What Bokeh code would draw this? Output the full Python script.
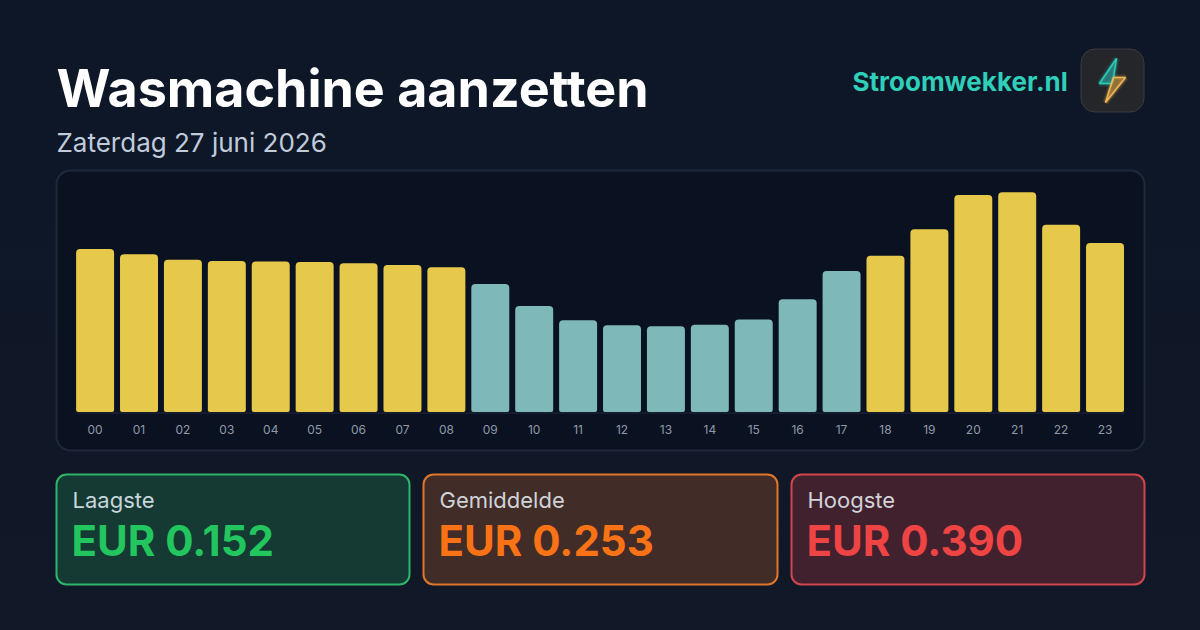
from bokeh.core.properties import value
from bokeh.embed import file_html
from bokeh.resources import INLINE
from bokeh.models import (BoxAnnotation, ColumnDataSource, FixedTicker, GlobalInlineStyleSheet,
                          LinearAxis, Range1d)
from bokeh.plotting import figure

TITLE = "Wasmachine aanzetten"
SUBTITLE = "Zaterdag 27 juni 2026"
BRAND = "Stroomwekker.nl"
hours = ["00", "01", "02", "03", "04", "05", "06", "07", "08", "09", "10", "11",
         "12", "13", "14", "15", "16", "17", "18", "19", "20", "21", "22", "23"]
prices = [0.289, 0.280, 0.270, 0.268, 0.267, 0.266, 0.264, 0.261, 0.257, 0.227, 0.188, 0.163,
          0.154, 0.152, 0.155, 0.164, 0.200, 0.250, 0.277, 0.324, 0.385, 0.390, 0.332, 0.300]
cheap_hours = ["09", "10", "11", "12", "13", "14", "15", "16", "17"]
card_labels = ["Laagste", "Gemiddelde", "Hoogste"]
card_values = ["EUR 0.152", "EUR 0.253", "EUR 0.390"]

W, H = 1200, 630
FONT = "Inter"
YELLOW, TEAL = "#e6c84a", "#7fb8b8"

css = GlobalInlineStyleSheet(css="html,body{margin:0;padding:0;overflow:hidden;"
                                 "background:linear-gradient(180deg,#0d1728,#111827);}")

# Page-pixel ranges for the frame and its cards; separate ranges for the bars.
p = figure(width=W, height=H, x_range=Range1d(0, W), y_range=Range1d(H, 0),
           output_backend="svg", toolbar_location=None, min_border=0,
           x_axis_type=None, y_axis_type=None)
p.stylesheets = [css]
p.background_fill_alpha = 0
p.border_fill_alpha = 0
p.outline_line_alpha = 0
p.grid.visible = False

PX_PER_EUR = 564
BASE_Y = 411.6
STEP = 43.91
FIRST_X = 94.6
p.extra_x_ranges["hours"] = Range1d(-FIRST_X / STEP, (W - FIRST_X) / STEP)
p.extra_y_ranges["price"] = Range1d(-(H - BASE_Y) / PX_PER_EUR, BASE_Y / PX_PER_EUR)


def box(l, t, r, b, fill, line, lw=2, rad=10):
    p.add_layout(BoxAnnotation(left=l, right=r, top=t, bottom=b,
                               fill_color=fill, fill_alpha=1, line_color=line, line_alpha=1,
                               line_width=lw, border_radius=rad, level="underlay"))


def text(x, y, s, size, color, bold=False):
    p.text(x=[x], y=[y], text=[s], text_font=value(FONT), text_font_size=f"{size}px",
           text_color=color, text_font_style="bold" if bold else "normal",
           text_align="left", text_baseline="alphabetic")


# chart panel
box(56, 170, 1144, 450, "#0a1120", "#1e293b", 2, 14)

# bars
hour_index = [int(h) for h in hours]
source = ColumnDataSource(dict(hour=hour_index, price=prices,
                               color=[TEAL if h in cheap_hours else YELLOW for h in hours]))
p.vbar(x="hour", top="price", width=0.865, bottom=0, source=source, fill_color="color",
       line_color=None, x_range_name="hours", y_range_name="price",
       border_radius={"top_left": 4, "top_right": 4, "bottom_left": 2, "bottom_right": 2})
p.line([76, 1124], [412.5, 412.5], line_color="#1e293b", line_width=1)

ax = LinearAxis(x_range_name="hours", fixed_location=BASE_Y,
                ticker=FixedTicker(ticks=hour_index),
                major_label_overrides=dict(zip(hour_index, hours)))
ax.axis_line_alpha = 0
ax.major_tick_line_alpha = 0
ax.minor_tick_line_alpha = 0
ax.major_label_text_color = "#8f99aa"
ax.major_label_text_font = FONT
ax.major_label_text_font_size = "12px"
ax.major_label_standoff = 7
p.add_layout(ax, "below")

# header
text(56, 88, TITLE, 52, "#ffffff", True)
text(56, 142, SUBTITLE, 26, "#c0cbdb")
text(852, 81, BRAND, 26, "#2fcfb9", True)

# logo
box(1080.5, 48.5, 1143.5, 111.5, "#252629", "#3a3b3e", 1, 14)
up_x = [1116, 1099, 1111, 1113]
up_y = [58, 83, 83, 77]
low_x = [1113, 1125, 1105, 1111]
low_y = [77, 77, 102, 83]
for lw, la in ((7, 0.07), (4.5, 0.12), (3, 0.2), (1.5, 0.9)):
    fa = 0.7 if lw == 1.5 else 0
    p.patch(up_x, up_y, fill_color="#2a9a94", fill_alpha=fa, line_color="#2dd4bf",
            line_width=lw, line_alpha=la)
    p.patch(low_x, low_y, fill_color="#b98a3a", fill_alpha=fa, line_color="#fbbf5a",
            line_width=lw, line_alpha=la)

# cards
cards = [(56, 409, "#153a33", "#2fb56a", "#22c55e", "#c9d6dc"),
         (423, 777, "#412c27", "#e0762a", "#f97316", "#d0d3da"),
         (791, 1144, "#42212e", "#d24650", "#ef4444", "#d0d3da")]
for (l, r, fill, line, val, lab), name, v in zip(cards, card_labels, card_values):
    box(l, 474, r, 584, fill, line, 2, 10)
    text(l + 16, 499, name, 22, lab)
    text(l + 15, 540, v, 42, val, True)

open("out.html", "w").write(file_html(p, INLINE))
